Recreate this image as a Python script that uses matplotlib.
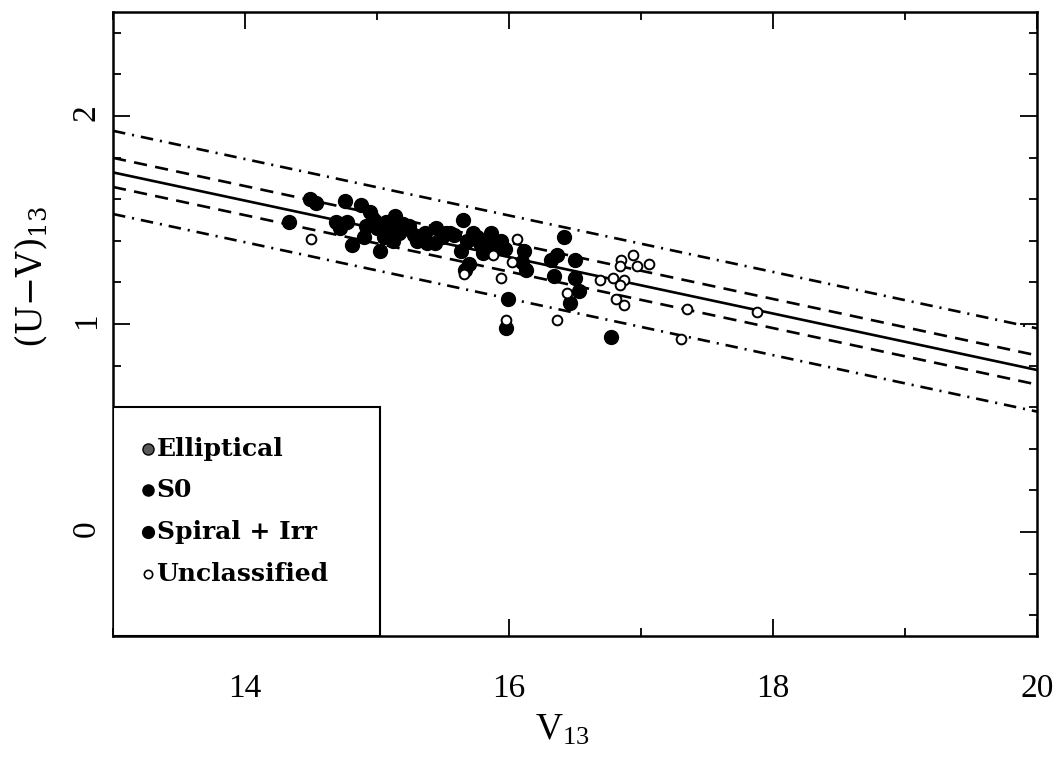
import matplotlib
matplotlib.use("Agg")
import matplotlib.pyplot as plt
import numpy as np
from matplotlib.patches import Rectangle

# early-type / classified galaxies (filled symbols)
v_filled = [14.33, 14.49, 14.54, 14.76, 14.88, 14.69, 14.77, 14.72, 14.81, 14.90,
            14.92, 14.95, 15.02, 15.00, 15.07, 15.14, 15.10, 15.17, 15.24, 15.28,
            15.33, 15.38, 15.44, 15.45, 14.98, 15.05, 15.20, 15.12, 15.30, 15.36,
            15.52, 15.58, 15.65, 15.55, 15.49, 15.68, 15.73, 15.86, 15.78, 15.64,
            15.70, 15.67, 15.80, 15.94, 15.97, 16.11, 16.10, 16.13, 16.42, 16.32,
            16.36, 16.34, 16.50, 16.50, 16.53, 16.46, 15.99, 15.98, 16.77, 15.76,
            15.83, 15.90]
uv_filled = [1.49, 1.60, 1.58, 1.59, 1.57, 1.49, 1.49, 1.46, 1.38, 1.42,
             1.47, 1.54, 1.35, 1.46, 1.49, 1.52, 1.46, 1.44, 1.47, 1.43,
             1.41, 1.39, 1.39, 1.46, 1.50, 1.42, 1.48, 1.40, 1.40, 1.44,
             1.44, 1.43, 1.50, 1.44, 1.42, 1.40, 1.44, 1.44, 1.39, 1.35,
             1.29, 1.26, 1.34, 1.40, 1.36, 1.35, 1.30, 1.26, 1.42, 1.31,
             1.33, 1.23, 1.31, 1.22, 1.16, 1.10, 1.12, 0.98, 0.94, 1.42,
             1.38, 1.37]

# unclassified (open symbols)
v_open = [14.50, 15.66, 15.88, 16.06, 16.02, 15.94, 15.98, 16.36, 16.44, 16.69,
          16.85, 16.94, 16.84, 16.97, 17.06, 16.79, 16.87, 16.84, 16.81, 16.87,
          17.35, 17.88, 17.30]
uv_open = [1.41, 1.24, 1.33, 1.41, 1.30, 1.22, 1.02, 1.02, 1.15, 1.21,
           1.31, 1.33, 1.28, 1.28, 1.29, 1.22, 1.21, 1.19, 1.12, 1.09,
           1.07, 1.06, 0.93]

# colour-magnitude relation and its envelopes
cmr_zero = 1.729      # (U-V) at V=13
cmr_slope = -0.1357
band_inner = 0.07
band_outer = 0.20

legend_labels = ['Elliptical', 'S0', 'Spiral + Irr', 'Unclassified']
legend_rows = [0.4, 0.2, 0.0, -0.2]

plt.rcParams['lines.scale_dashes'] = False
plt.rcParams['mathtext.default'] = 'regular'

fig = plt.figure(figsize=(10.61, 7.57), dpi=100)
ax = fig.add_axes([0.1065, 0.1598, 0.8709, 0.8243])

x = np.array([13.0, 20.0])
y0 = cmr_zero + cmr_slope * (x - 13.0)
ax.plot(x, y0, color='black', lw=1.9)
for off in (band_inner, -band_inner):
    ax.plot(x, y0 + off, color='black', lw=1.9, linestyle=(0, (9.5, 6.0)))
for off in (band_outer, -band_outer):
    ax.plot(x, y0 + off, color='black', lw=1.9,
            linestyle=(0, (9.0, 5.0, 1.5, 5.0)))

ax.plot(v_filled, uv_filled, 'o', ms=10, mfc='black', mec='black', ls='none')
ax.plot(v_open, uv_open, 'o', ms=7, mfc='white', mec='black', mew=1.4, ls='none')

# legend box in the lower left corner
ax.add_patch(Rectangle((13.0, -0.5), 2.02, 1.1, fc='white', ec='black', lw=1.5, zorder=4))
styles = [dict(ms=8, mfc='0.35', mec='black', mew=1.0),
          dict(ms=8, mfc='black', mec='black'),
          dict(ms=8.5, mfc='black', mec='black'),
          dict(ms=6, mfc='white', mec='black', mew=1.2)]
for lab, yy, st in zip(legend_labels, legend_rows, styles):
    ax.plot([13.265], [yy], 'o', zorder=5, **st)
    ax.text(13.33, yy, lab, fontsize=18, family='DejaVu Serif', weight='bold',
            va='center', ha='left', zorder=5)

ax.set_xlim(13, 20)
ax.set_ylim(-0.5, 2.5)
ax.set_xticks([14, 16, 18, 20])
ax.set_xticks([13, 15, 17, 19], minor=True)
ax.set_yticks([0, 1, 2])
ax.set_yticks(np.arange(-0.4, 2.5, 0.2), minor=True)
ax.tick_params(which='both', direction='in', top=True, right=True, width=1.3)
ax.tick_params(which='major', length=12)
ax.tick_params(which='minor', length=6)
ax.tick_params(axis='x', pad=27)
ax.tick_params(axis='y', pad=8, labelrotation=90)
for lab in ax.get_xticklabels() + ax.get_yticklabels():
    lab.set_fontfamily('Liberation Serif')
    lab.set_fontsize(24)
for sp in ax.spines.values():
    sp.set_linewidth(1.8)

ax.set_xlabel('V$_{13}$', fontsize=27, family='Liberation Serif')
ax.set_ylabel('(U−V)$_{13}$', fontsize=25, family='DejaVu Serif')
ax.xaxis.set_label_coords(0.486, -0.124)
ax.yaxis.set_label_coords(-0.068, 0.575)

fig.savefig('out.png', dpi=100)
